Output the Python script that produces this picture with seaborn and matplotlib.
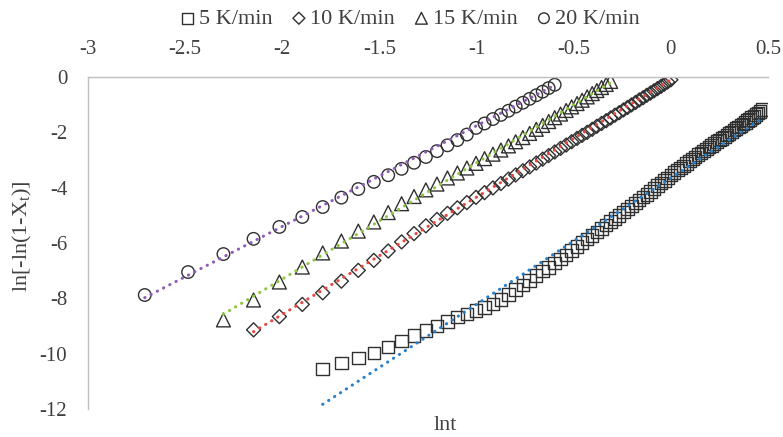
import numpy as np
import pandas as pd
import seaborn as sns
import matplotlib.pyplot as plt
from matplotlib.ticker import FixedLocator, FixedFormatter

# ln t values (t in min) and ln[-ln(1-Xt)]
lnt_5 = [-1.792, -1.696, -1.609, -1.529, -1.455, -1.386, -1.322, -1.261, -1.204, -1.150,
         -1.099, -1.050, -1.003, -0.959, -0.916, -0.875, -0.836, -0.799, -0.762, -0.727,
         -0.693, -0.660, -0.629, -0.598, -0.568, -0.539, -0.511, -0.483, -0.457, -0.431,
         -0.405, -0.381, -0.357, -0.333, -0.310, -0.288, -0.266, -0.244, -0.223, -0.203,
         -0.182, -0.163, -0.143, -0.124, -0.105, -0.087, -0.069, -0.051, -0.034, -0.017,
         0.000, 0.017, 0.033, 0.049, 0.065, 0.080, 0.095, 0.110, 0.125, 0.140,
         0.154, 0.168, 0.182, 0.196, 0.210, 0.223, 0.236, 0.249, 0.262, 0.275,
         0.288, 0.300, 0.312, 0.324, 0.336, 0.348, 0.360, 0.372, 0.383, 0.394,
         0.405, 0.416, 0.427, 0.438, 0.449, 0.459, 0.470]
y_5 = [-10.55, -10.34, -10.16, -9.97, -9.76, -9.54, -9.34, -9.17, -9.00, -8.83,
       -8.68, -8.56, -8.44, -8.34, -8.21, -8.04, -7.86, -7.69, -7.52, -7.35,
       -7.18, -7.02, -6.88, -6.73, -6.58, -6.43, -6.28, -6.13, -5.99, -5.86,
       -5.73, -5.60, -5.47, -5.35, -5.23, -5.11, -5.00, -4.88, -4.78, -4.67,
       -4.56, -4.45, -4.34, -4.24, -4.13, -4.03, -3.93, -3.84, -3.74, -3.65,
       -3.55, -3.46, -3.37, -3.29, -3.21, -3.13, -3.04, -2.96, -2.89, -2.81,
       -2.74, -2.67, -2.60, -2.53, -2.47, -2.41, -2.34, -2.28, -2.22, -2.16,
       -2.10, -2.04, -1.98, -1.92, -1.86, -1.81, -1.75, -1.69, -1.64, -1.58,
       -1.53, -1.47, -1.42, -1.36, -1.31, -1.25, -1.18]

lnt_10 = [-2.148, -2.015, -1.897, -1.792, -1.696, -1.609, -1.529, -1.455, -1.386, -1.322,
          -1.261, -1.204, -1.150, -1.099, -1.050, -1.003, -0.959, -0.916, -0.875, -0.836,
          -0.799, -0.762, -0.727, -0.693, -0.660, -0.629, -0.598, -0.568, -0.539, -0.511,
          -0.483, -0.457, -0.431, -0.405, -0.381, -0.357, -0.333, -0.310, -0.288, -0.266,
          -0.244, -0.223, -0.203, -0.182, -0.163, -0.143, -0.124, -0.105, -0.087, -0.069,
          -0.051, -0.034, -0.017, 0.000]
y_10 = [-9.14, -8.66, -8.22, -7.80, -7.38, -6.99, -6.63, -6.29, -5.96, -5.66,
        -5.38, -5.15, -4.93, -4.73, -4.54, -4.35, -4.18, -4.01, -3.85, -3.69,
        -3.54, -3.39, -3.25, -3.11, -2.97, -2.84, -2.71, -2.58, -2.46, -2.34,
        -2.22, -2.11, -2.00, -1.89, -1.78, -1.68, -1.58, -1.48, -1.38, -1.29,
        -1.19, -1.10, -1.01, -0.92, -0.83, -0.75, -0.66, -0.58, -0.50, -0.42,
        -0.34, -0.26, -0.18, -0.10]

lnt_15 = [-2.303, -2.148, -2.015, -1.897, -1.792, -1.696, -1.609, -1.529, -1.455, -1.386,
          -1.322, -1.261, -1.204, -1.150, -1.099, -1.050, -1.003, -0.959, -0.916, -0.875,
          -0.836, -0.799, -0.762, -0.727, -0.693, -0.660, -0.629, -0.598, -0.568, -0.539,
          -0.511, -0.483, -0.457, -0.431, -0.405, -0.381, -0.357, -0.333, -0.310]
y_15 = [-8.78, -8.06, -7.41, -6.87, -6.36, -5.93, -5.57, -5.24, -4.90, -4.58,
        -4.32, -4.08, -3.87, -3.65, -3.47, -3.29, -3.12, -2.95, -2.79, -2.64,
        -2.49, -2.34, -2.19, -2.04, -1.89, -1.75, -1.61, -1.47, -1.34, -1.21,
        -1.08, -0.96, -0.84, -0.72, -0.60, -0.49, -0.38, -0.27, -0.16]

lnt_20 = [-2.708, -2.485, -2.303, -2.148, -2.015, -1.897, -1.792, -1.696, -1.609, -1.529,
          -1.455, -1.386, -1.322, -1.261, -1.204, -1.150, -1.099, -1.050, -1.003, -0.959,
          -0.916, -0.875, -0.836, -0.799, -0.762, -0.727, -0.693, -0.660, -0.629, -0.598]
y_20 = [-7.88, -7.05, -6.40, -5.85, -5.42, -5.06, -4.70, -4.36, -4.05, -3.79,
        -3.55, -3.32, -3.10, -2.89, -2.68, -2.47, -2.28, -2.08, -1.84, -1.68,
        -1.52, -1.37, -1.22, -1.07, -0.93, -0.79, -0.66, -0.53, -0.40, -0.28]

# linear trendlines (slope, intercept)
fit_slope = [4.568, 4.24, 4.20, 3.64]
fit_intercept = [-3.645, -0.10, 1.10, 1.88]

labels = ['5 K/min', '10 K/min', '15 K/min', '20 K/min']
markers = ['s', 'D', '^', 'o']
sizes = [81, 51, 100, 81]
colors = ['#2a7fc9', '#e8463e', '#8dc63f', '#8e5bb5']
xs = [lnt_5, lnt_10, lnt_15, lnt_20]
ys = [y_5, y_10, y_15, y_20]

x_ticks = [-3, -2.5, -2, -1.5, -1, -0.5, 0, 0.5]
x_labels = ['-3', '-2.5', '-2', '-1.5', '-1', '-0.5', '0', '0.5']
y_ticks = [-12, -10, -8, -6, -4, -2, 0]
y_labels = ['-12', '-10', '-8', '-6', '-4', '-2', '0']

sns.set_theme(style='white')
plt.rcParams['font.family'] = ['Liberation Serif', 'DejaVu Serif']
plt.rcParams['axes.unicode_minus'] = False
plt.rcParams['mathtext.fontset'] = 'custom'
plt.rcParams['mathtext.rm'] = 'Liberation Serif'

fig = plt.figure(figsize=(7.83, 4.37), dpi=100)
ax = fig.add_axes([0.1124, 0.0641, 0.8685, 0.7597])

for i in range(4):
    df = pd.DataFrame({'lnt': xs[i], 'y': ys[i]})
    sns.scatterplot(data=df, x='lnt', y='y', marker=markers[i], s=sizes[i],
                    ax=ax, label=labels[i], zorder=2)
    pc = ax.collections[-1]
    pc.set_facecolor('none')
    pc.set_edgecolor('#303030')
    pc.set_linewidth(1.0)

for i in range(4):
    x = np.array(xs[i])
    df = pd.DataFrame({'lnt': x, 'fit': fit_slope[i] * x + fit_intercept[i]})
    sns.lineplot(data=df, x='lnt', y='fit', color=colors[i], ax=ax, legend=False, zorder=3)
    ln = ax.lines[-1]
    ln.set_linewidth(2.2)
    ln.set_linestyle((0, (0.1, 2.2)))
    ln.set_dash_capstyle('round')

ax.set_xlim(-3, 0.5)
ax.set_ylim(-12, 0)
ax.xaxis.tick_top()
ax.xaxis.set_label_position('bottom')
ax.xaxis.set_major_locator(FixedLocator(x_ticks))
ax.xaxis.set_major_formatter(FixedFormatter(x_labels))
ax.yaxis.set_major_locator(FixedLocator(y_ticks))
ax.yaxis.set_major_formatter(FixedFormatter(y_labels))
ax.tick_params(axis='both', length=0, labelsize=15, colors='#404040')
ax.tick_params(axis='y', pad=15)
ax.tick_params(axis='x', pad=13)
for side in ['right', 'bottom']:
    ax.spines[side].set_visible(False)
for side in ['top', 'left']:
    ax.spines[side].set_color('#bfbfbf')
    ax.spines[side].set_linewidth(1.0)
ax.grid(False)

ax.set_xlabel('lnt', fontsize=16, color='#404040')
ax.set_ylabel('ln[-ln(1-X$_\\mathregular{t}$)]', fontsize=16, color='#404040')
ax.xaxis.set_label_coords(0.526, -0.02)
ax.yaxis.set_label_coords(-0.096, 0.52)
ax.xaxis.label.set_va('top')
ax.yaxis.label.set_va('center')

handles, labs = ax.get_legend_handles_labels()
ax.get_legend().remove()
fig.legend(handles, labs, loc='center', bbox_to_anchor=(0.524, 0.957), ncol=4,
           frameon=False, handlelength=0.6, handletextpad=0.2, columnspacing=0.9,
           fontsize=16, markerscale=0.85, labelcolor='#404040')

fig.savefig('out.png', dpi=100)
